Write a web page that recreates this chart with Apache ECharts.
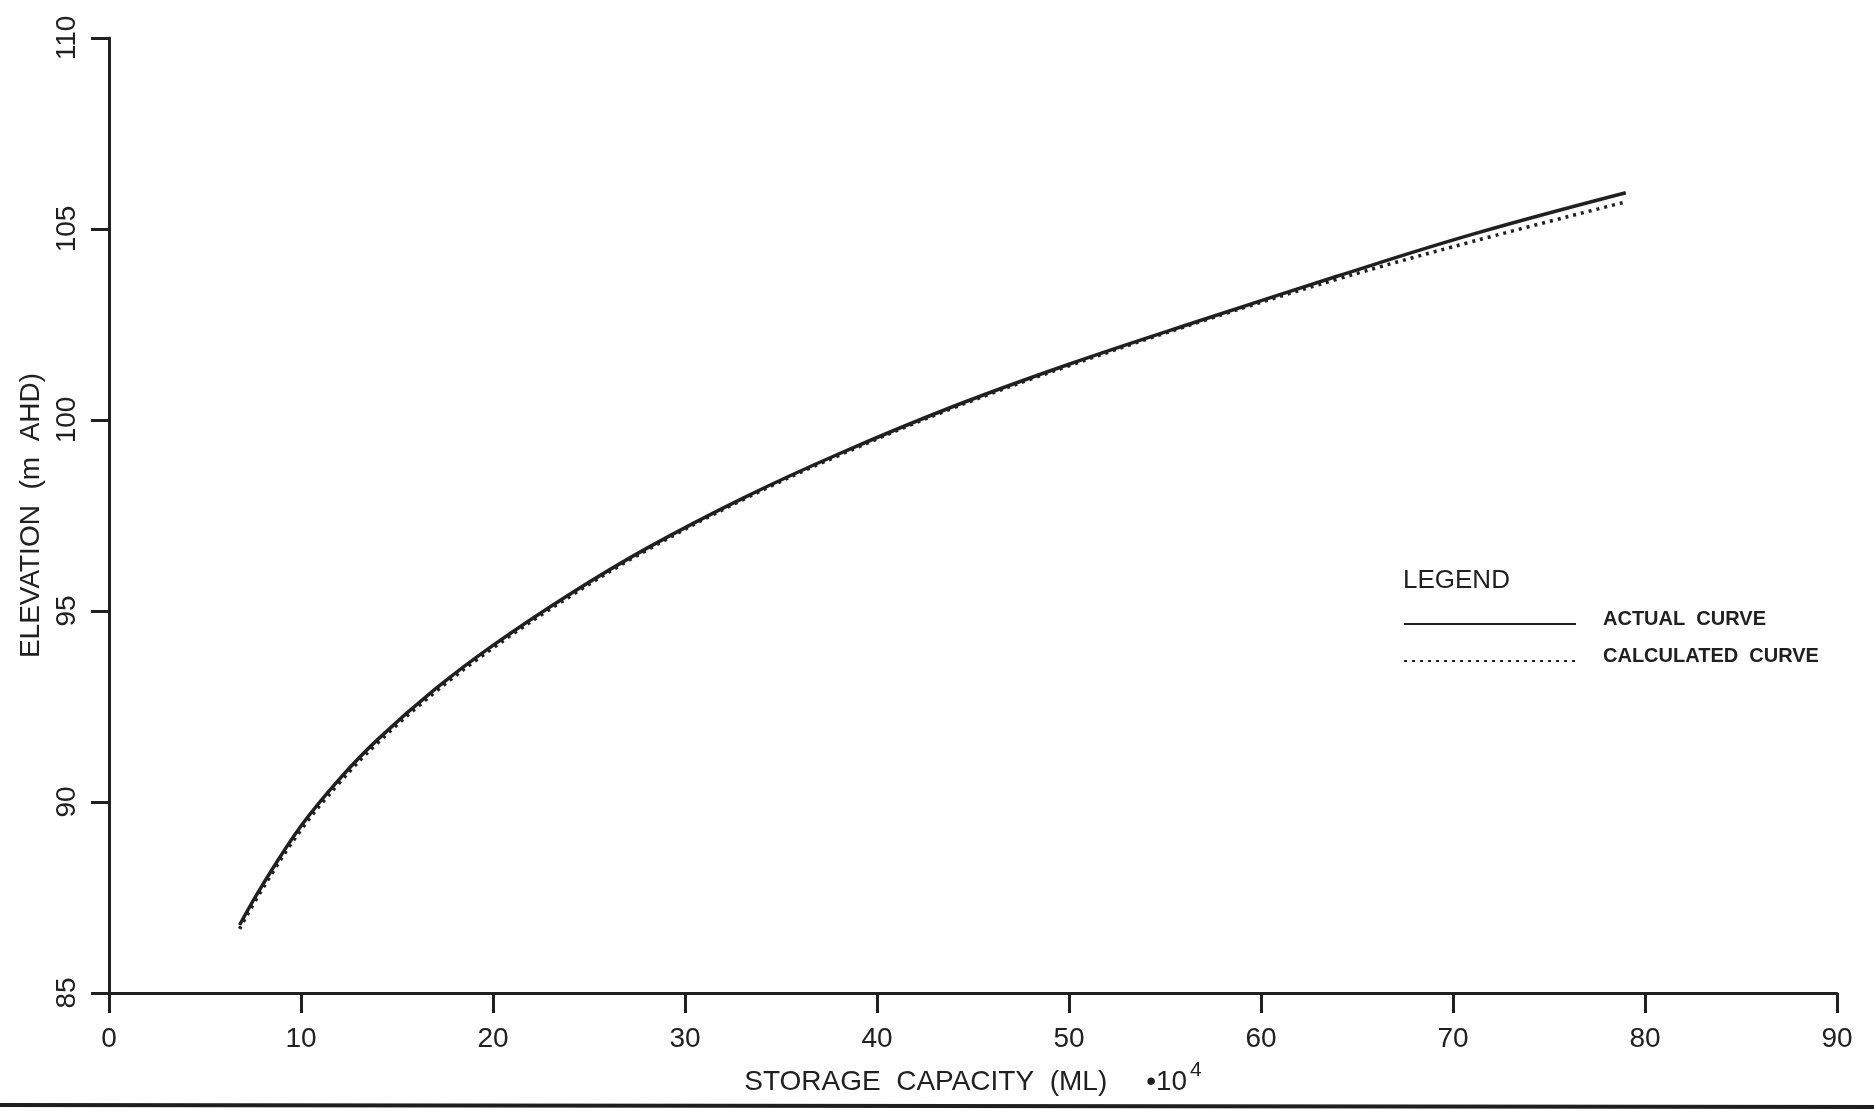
<!DOCTYPE html>
<html>
<head>
<meta charset="utf-8">
<title>Storage capacity curve</title>
<script src="https://cdn.jsdelivr.net/npm/echarts@6/dist/echarts.min.js"></script>
<style>
  html, body { margin: 0; padding: 0; background: #ffffff; }
  #chart { width: 1874px; height: 1111px; }
</style>
</head>
<body>
<div id="chart"></div>
<script>
// Storage capacity (ML x 10^4) at which each elevation was read
const storage = [6.8, 8, 10, 12, 14, 17, 20, 24, 28, 33, 38, 44, 50, 57, 64, 71, 79];

// Elevation (m AHD) on the actual storage curve
const actualElev = [86.78, 87.83, 89.37, 90.6, 91.64, 92.96, 94.1, 95.44, 96.64, 97.95,
                    99.11, 100.36, 101.46, 102.63, 103.77, 104.86, 105.95];

// Elevation (m AHD) on the calculated storage curve
const calcElev = [86.68, 87.73, 89.27, 90.5, 91.55, 92.88, 94.03, 95.38, 96.59, 97.91,
                  99.07, 100.32, 101.42, 102.6, 103.69, 104.67, 105.71];

const seriesNames = ['ACTUAL  CURVE', 'CALCULATED  CURVE'];
const legendTitle = 'LEGEND';
const xTitle = 'STORAGE  CAPACITY  (ML)     \u202210';
const xTitleExp = '4';
const yTitle = 'ELEVATION  (m  AHD)';

const INK = '#202020';
const FONT = '"Liberation Sans", Arial, sans-serif';

const pairs = (xs, ys) => xs.map((x, i) => [x, ys[i]]);

const chart = echarts.init(document.getElementById('chart'), null, { renderer: 'canvas' });

chart.setOption({
  backgroundColor: '#ffffff',
  animation: false,
  grid: { left: 109, right: 37, top: 38, bottom: 118, containLabel: false },
  xAxis: {
    type: 'value',
    min: 0, max: 90, interval: 10,
    axisLine: { show: true, lineStyle: { color: INK, width: 3 } },
    axisTick: { show: true, inside: false, length: 20, lineStyle: { color: INK, width: 3 } },
    splitLine: { show: false },
    axisLabel: { color: INK, fontFamily: FONT, fontSize: 28, margin: 32 },
    name: '{a|' + xTitle + '}{s|' + xTitleExp + '}',
    nameLocation: 'middle',
    nameGap: 67,
    nameTextStyle: {
      rich: {
        a: { color: INK, fontFamily: FONT, fontSize: 28 },
        s: { color: INK, fontFamily: FONT, fontSize: 21, padding: [0, 0, 24, 3] }
      }
    }
  },
  yAxis: {
    type: 'value',
    min: 85, max: 110, interval: 5,
    axisLine: { show: true, lineStyle: { color: INK, width: 3 } },
    axisTick: { show: true, inside: false, length: 18, lineStyle: { color: INK, width: 3 } },
    splitLine: { show: false },
    axisLabel: { color: INK, fontFamily: FONT, fontSize: 28, rotate: 90, margin: 28 },
    name: yTitle,
    nameLocation: 'middle',
    nameGap: 64,
    nameTextStyle: { color: INK, fontFamily: FONT, fontSize: 28 }
  },
  legend: {
    orient: 'vertical',
    left: 1403,
    top: 609,
    padding: 0,
    itemWidth: 172,
    itemHeight: 14,
    itemGap: 7,
    selectedMode: false,
    data: seriesNames,
    // the trailing empty line lifts each label slightly above its line sample
    formatter: name => name + '\n',
    itemStyle: { color: 'rgba(0,0,0,0)', borderWidth: 0, opacity: 0 },
    textStyle: {
      color: INK, fontFamily: FONT, fontSize: 20, fontWeight: 'bold',
      lineHeight: 10, padding: [0, 0, 0, 22]
    }
  },
  graphic: [
    {
      type: 'text', left: 1403, top: 568,
      style: { text: legendTitle, fill: INK, font: '26px ' + FONT }
    },
    {
      // edge of the drawing sheet along the bottom
      type: 'line', silent: true,
      shape: { x1: 0, y1: 1105, x2: 1874, y2: 1107 },
      style: { stroke: '#1e1e1e', lineWidth: 4 }
    }
  ],
  series: [
    {
      name: seriesNames[0],
      type: 'line',
      data: pairs(storage, actualElev),
      smooth: 0.4,
      symbol: 'none',
      lineStyle: { color: INK, width: 3.5 },
      itemStyle: { color: INK },
      z: 3
    },
    {
      name: seriesNames[1],
      type: 'line',
      data: pairs(storage, calcElev),
      smooth: 0.4,
      symbol: 'none',
      lineStyle: { color: INK, width: 3.5, type: [3, 5], cap: 'butt' },
      itemStyle: { color: INK },
      z: 2
    }
  ]
});
</script>
</body>
</html>
